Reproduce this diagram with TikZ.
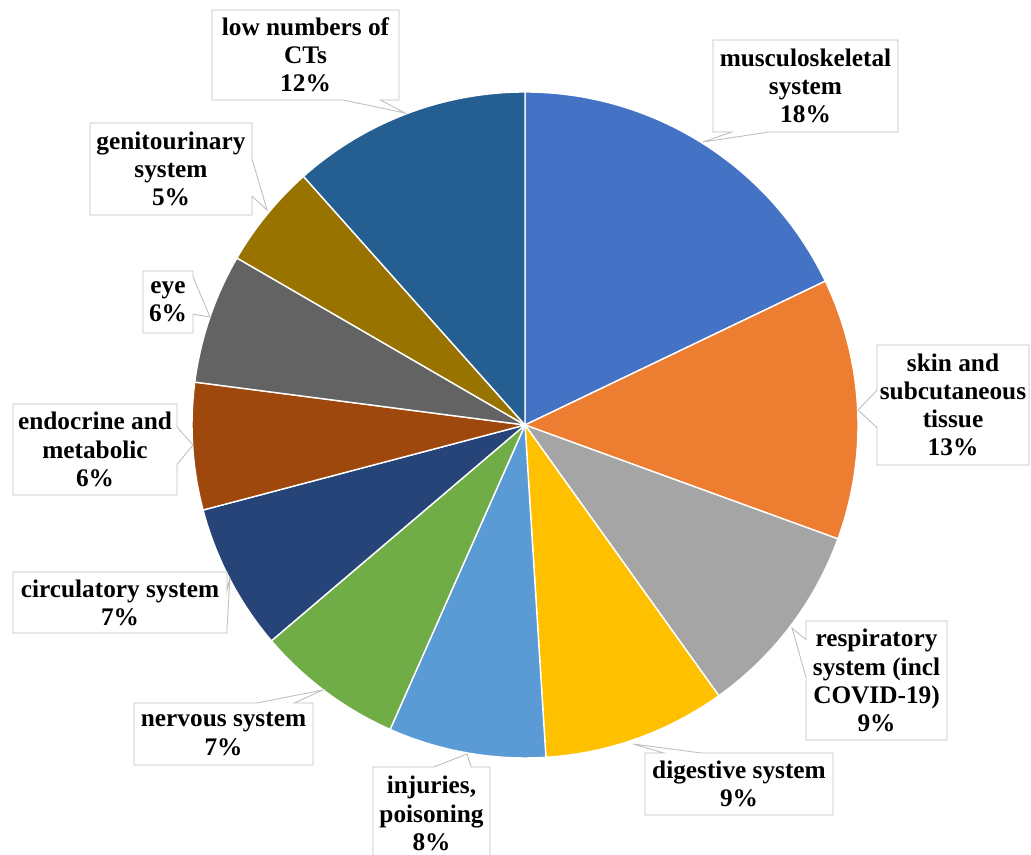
\documentclass[tikz,border=0pt]{standalone}
\usepackage{fontspec}
\setmainfont{Liberation Serif}
\usetikzlibrary{shapes.callouts}
\definecolor{pieA}{HTML}{4472C4}
\definecolor{pieB}{HTML}{ED7D31}
\definecolor{pieC}{HTML}{A5A5A5}
\definecolor{pieD}{HTML}{FFC000}
\definecolor{pieE}{HTML}{5B9BD5}
\definecolor{pieF}{HTML}{70AD47}
\definecolor{pieG}{HTML}{264478}
\definecolor{pieH}{HTML}{9E480E}
\definecolor{pieI}{HTML}{636363}
\definecolor{pieJ}{HTML}{997300}
\definecolor{pieK}{HTML}{255E91}
\tikzset{
  slice/.style={draw=white, line width=0.8pt, line join=round},
  lbl/.style={rectangle callout, draw=black!25, line width=0.5pt, fill=white,
    inner sep=0pt, align=center, callout pointer width=0.75cm,
    font=\fontsize{14.4}{16}\selectfont\bfseries},
}

\begin{document}
\begin{tikzpicture}
		%%%%% START %%%%%
		\useasboundingbox (0, 0) rectangle (20.62, 17.10);
		
		\coordinate (C) at (10.5, 8.6);
		
		\draw[slice, fill=pieA] (C) -- ++(90:6.66) arc (90:25.6:6.66) -- cycle;
		\draw[slice, fill=pieB] (C) -- ++(25.6:6.66) arc (25.6:-20.0:6.66) -- cycle;
		\draw[slice, fill=pieC] (C) -- ++(-20.0:6.66) arc (-20.0:-54.4:6.66) -- cycle;
		\draw[slice, fill=pieD] (C) -- ++(-54.4:6.66) arc (-54.4:-86.4:6.66) -- cycle;
		\draw[slice, fill=pieE] (C) -- ++(-86.4:6.66) arc (-86.4:-113.9:6.66) -- cycle;
		\draw[slice, fill=pieF] (C) -- ++(-113.9:6.66) arc (-113.9:-139.6:6.66) -- cycle;
		\draw[slice, fill=pieG] (C) -- ++(-139.6:6.66) arc (-139.6:-165.2:6.66) -- cycle;
		\draw[slice, fill=pieH] (C) -- ++(-165.2:6.66) arc (-165.2:-187.4:6.66) -- cycle;
		\draw[slice, fill=pieI] (C) -- ++(-187.4:6.66) arc (-187.4:-210.1:6.66) -- cycle;
		\draw[slice, fill=pieJ] (C) -- ++(-210.1:6.66) arc (-210.1:-228.3:6.66) -- cycle;
		\draw[slice, fill=pieK] (C) -- ++(-228.3:6.66) arc (-228.3:-270:6.66) -- cycle;
		
		% pointer tips on the pie
		\coordinate (tMusc) at (14.06, 14.26);
		\coordinate (tSkin) at (17.16, 8.90);
		\coordinate (tResp) at (15.84, 4.54);
		\coordinate (tDig) at (12.66, 2.22);
		\coordinate (tInj) at (9.34, 2.02);
		\coordinate (tNerv) at (6.46, 3.30);
		\coordinate (tCirc) at (4.60, 5.56);
		\coordinate (tEndo) at (3.86, 8.20);
		\coordinate (tEye) at (4.20, 10.76);
		\coordinate (tGen) at (5.34, 12.90);
		\coordinate (tLow) at (8.10, 14.84);
		
		\node[lbl, minimum width=3.70cm, minimum height=1.84cm, callout absolute pointer={(tMusc)}] (musc) at (16.11, 15.38) {musculoskeletal\\system\\18\%};
		\node[lbl, minimum width=3.04cm, minimum height=2.40cm, callout absolute pointer={(tSkin)}] (skin) at (19.06, 9.00) {skin and\\subcutaneous\\tissue\\13\%};
		\node[lbl, minimum width=2.82cm, minimum height=2.38cm, callout absolute pointer={(tResp)}] (resp) at (17.53, 3.49) {respiratory\\system (incl\\COVID-19)\\9\%};
		\node[lbl, minimum width=3.76cm, minimum height=1.24cm, callout absolute pointer={(tDig)}] (dig) at (14.78, 1.42) {digestive system\\9\%};
		\node[lbl, minimum width=2.34cm, minimum height=1.86cm, callout absolute pointer={(tInj)}] (inj) at (8.63, 0.83) {injuries,\\poisoning\\8\%};
		\node[lbl, minimum width=3.58cm, minimum height=1.24cm, callout absolute pointer={(tNerv)}] (nerv) at (4.47, 2.42) {nervous system\\7\%};
		\node[lbl, minimum width=4.28cm, minimum height=1.22cm, callout absolute pointer={(tCirc)}] (circ) at (2.40, 5.05) {circulatory system\\7\%};
		\node[lbl, minimum width=3.28cm, minimum height=1.82cm, callout absolute pointer={(tEndo)}] (endo) at (1.90, 8.11) {endocrine and\\metabolic\\6\%};
		\node[lbl, minimum width=1.00cm, minimum height=1.24cm, callout absolute pointer={(tEye)}] (eye) at (3.36, 11.06) {eye\\6\%};
		\node[lbl, minimum width=3.24cm, minimum height=1.84cm, callout absolute pointer={(tGen)}] (gen) at (3.42, 13.72) {genitourinary\\system\\5\%};
		\node[lbl, minimum width=3.74cm, minimum height=1.80cm, callout absolute pointer={(tLow)}] (low) at (6.11, 16.00) {low numbers of\\CTs\\12\%};
		
		%%%%% END %%%%%
	\end{tikzpicture}
\end{document}
